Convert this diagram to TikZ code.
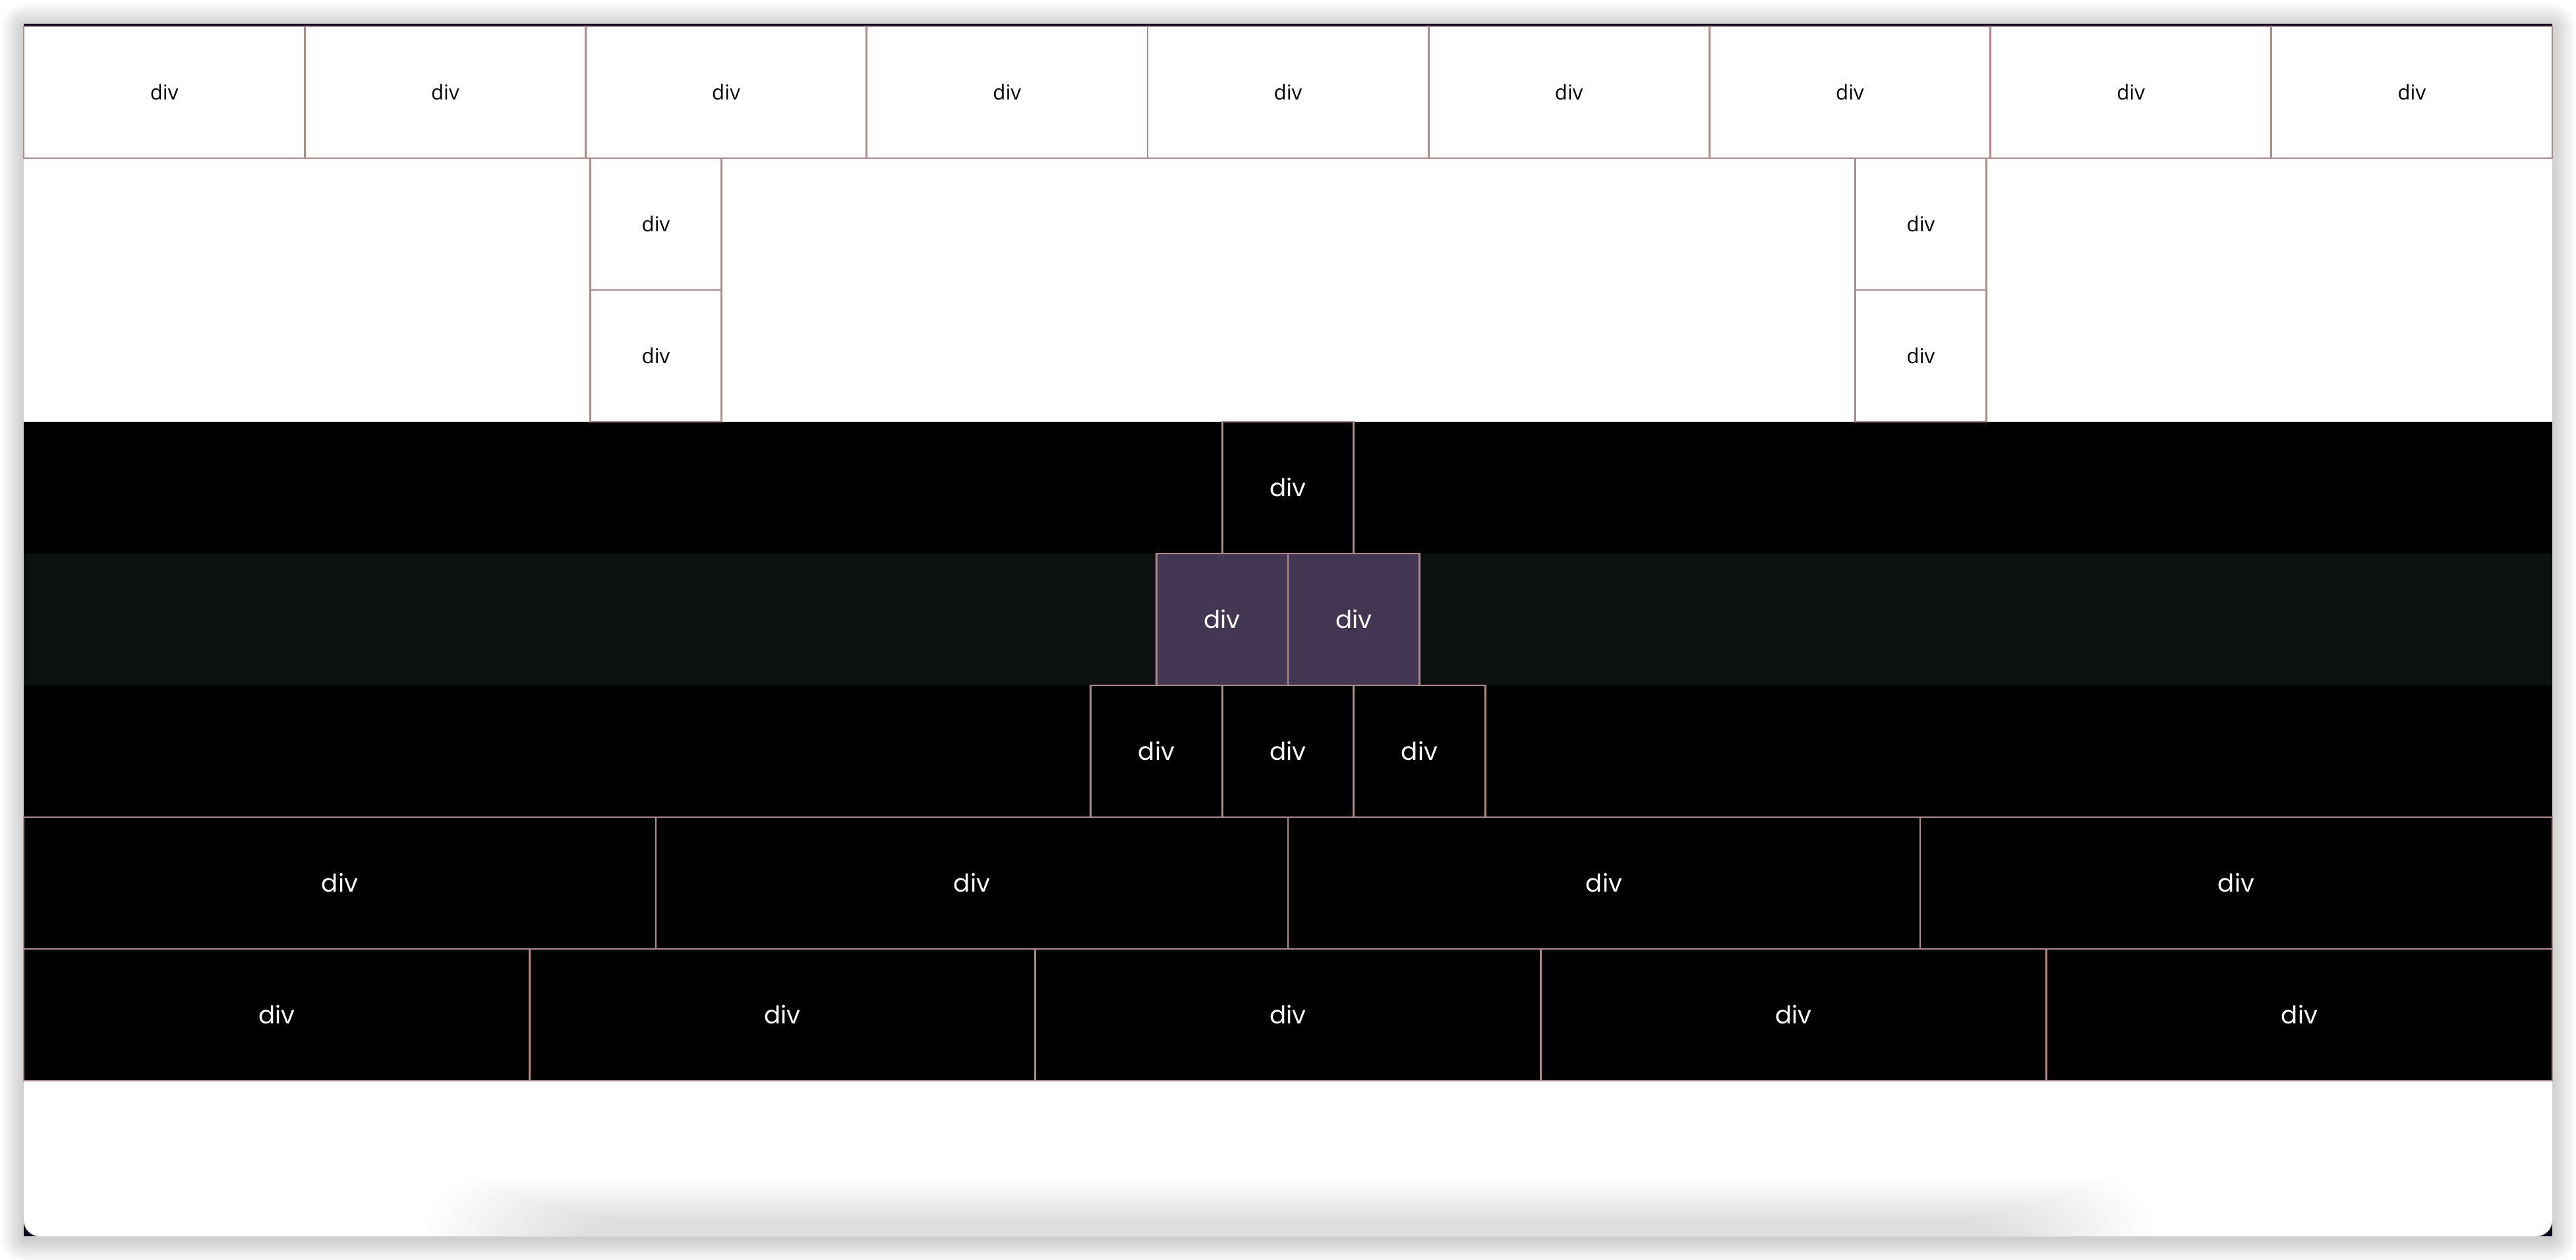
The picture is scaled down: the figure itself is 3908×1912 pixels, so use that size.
\documentclass[tikz,border=0pt]{standalone}
\usepackage{fontspec}
\newfontfamily\lightf{Open Sans}
\newfontfamily\darkf{Poppins}
\definecolor{bord}{RGB}{174,138,138}
\definecolor{purp}{RGB}{67,54,82}
\definecolor{midrow}{RGB}{12,17,16}
\definecolor{navy}{RGB}{12,8,32}
\tikzset{
  cellbase/.style={draw=bord, line width=0.7pt, inner sep=0pt, minimum height=50pt},
  lightcell/.style={cellbase, fill=white, text=black, font=\lightf\fontsize{7.8}{9}\selectfont},
  darkcell/.style={cellbase, fill=black, text=white, font=\darkf\fontsize{9.3}{10}\selectfont},
  purpcell/.style={darkcell, fill=purp},
  sq/.style={minimum width=49.875pt},
  shadowlayer/.style={black, opacity=0.011},
}
\begin{document}
\begin{tikzpicture}[x=0.25pt, y=-0.25pt]
\useasboundingbox (0,0) rectangle (3908,1912);
\fill[white] (0,0) rectangle (3908,1912);
% outer card shadow
\foreach \k in {1,...,16}
  \fill[shadowlayer, rounded corners={\k*0.6pt}] ({36-2.2*\k},{36-2.2*\k+4}) rectangle ({3872+2.2*\k},{1876+2.2*\k+4});
% card base
\fill[navy] (36,36) rectangle (3872,1876);
% row backgrounds
\fill[white] (36,40) rectangle (3872,640);
\fill[black] (36,640) rectangle (3872,840);
\fill[midrow] (36,840) rectangle (3872,1040);
\fill[black] (36,1040) rectangle (3872,1240);
% bottom white area with rounded lower corners and inner shadow
\begin{scope}
  \clip (0,1640) rectangle (3908,1912);
  \fill[white, rounded corners=6pt] (36,1500) rectangle (3872,1876);
  \clip[rounded corners=6pt] (36,1500) rectangle (3872,1876);
  \foreach \k in {0,...,15}
    \fill[black, opacity=0.009, rounded corners=18pt] ({650+14*\k},{1790+4*\k}) rectangle ({3260-14*\k},1960);
\end{scope}
% row 1
\foreach \i in {0,...,8}
  \node[lightcell, minimum width=106.555pt] (top\i) at ({36+426.22*(\i+0.5)},140) {div};
% rows 2-3
\node[lightcell, sq] (la) at (995,340) {div};
\node[lightcell, sq] (lb) at (995,540) {div};
\node[lightcell, sq] (ra) at (2914,340) {div};
\node[lightcell, sq] (rb) at (2914,540) {div};
% row 4
\node[darkcell, sq] (mid) at (1954,740) {div};
% row 5
\node[purpcell, sq] (pa) at (1854.25,940) {div};
\node[purpcell, sq] (pb) at (2053.75,940) {div};
% row 6
\node[darkcell, sq] (qa) at (1754.5,1140) {div};
\node[darkcell, sq] (qb) at (1954,1140) {div};
\node[darkcell, sq] (qc) at (2153.5,1140) {div};
% row 7
\foreach \i in {0,...,3}
  \node[darkcell, minimum width=239.75pt] (rs\i) at ({36+959*(\i+0.5)},1340) {div};
% row 8
\foreach \i in {0,...,4}
  \node[darkcell, minimum width=191.8pt] (rf\i) at ({36+767.2*(\i+0.5)},1540) {div};
\end{tikzpicture}
\end{document}
